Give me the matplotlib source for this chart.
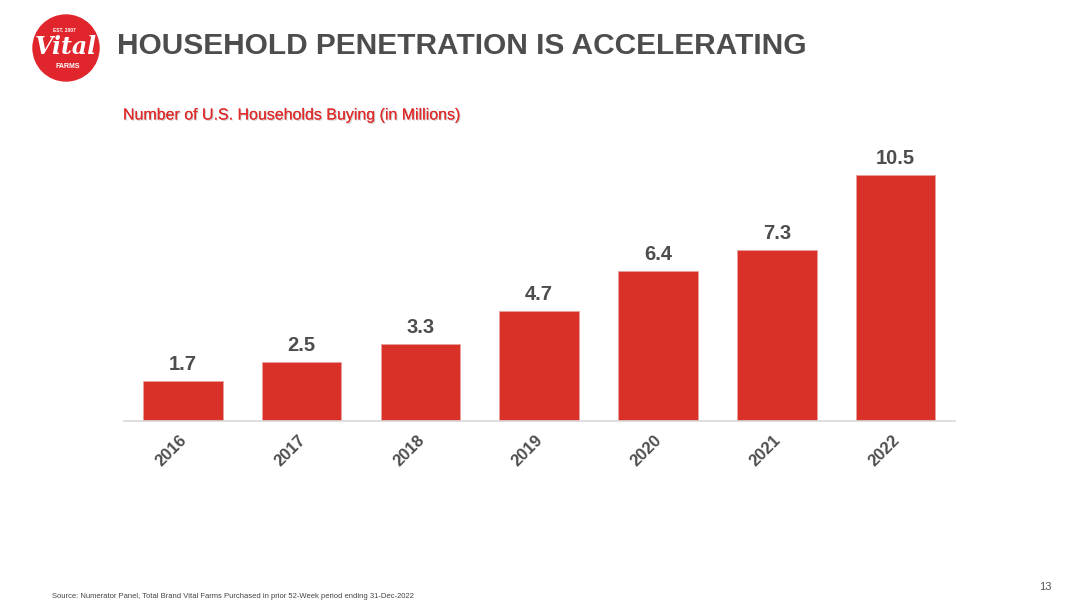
import matplotlib
matplotlib.use("Agg")
import matplotlib.pyplot as plt
from matplotlib.patches import Circle
import matplotlib.patheffects as pe
import matplotlib.transforms as mtrans

years = ["2016", "2017", "2018", "2019", "2020", "2021", "2022"]
households = [1.7, 2.5, 3.3, 4.7, 6.4, 7.3, 10.5]
value_labels = ["1.7", "2.5", "3.3", "4.7", "6.4", "7.3", "10.5"]

plt.rcParams["font.family"] = ["Liberation Sans", "DejaVu Sans"]

red = "#d93128"
grey = "#4d4d4d"

fig = plt.figure(figsize=(10.8, 6.12), dpi=100)

# chart area
ax = fig.add_axes([123.5 / 1080, 1 - 421 / 612, (955 - 123.5) / 1080, 281 / 612])
ax.bar(range(len(years)), households, width=0.67, color=red, edgecolor="#e8a09b", linewidth=0.6)
ax.set_xlim(-0.5, len(years) - 0.5)
ax.set_ylim(0, 12)
for i, v in enumerate(households):
    ax.text(i, v + 0.3, value_labels[i], ha="center", va="bottom",
            fontsize=14.5, fontweight="bold", color=grey)
ax.set_xticks(range(len(years)))
ax.set_xticklabels(years, rotation=45, ha="right", rotation_mode="anchor",
                   fontsize=12, fontweight="bold", color=grey)
ax.tick_params(axis="x", length=0, pad=8)
shift = mtrans.ScaledTranslation(-4 / 100, 0, fig.dpi_scale_trans)
for lbl in ax.get_xticklabels():
    lbl.set_transform(lbl.get_transform() + shift)
ax.set_yticks([])
for s in ["top", "right", "left"]:
    ax.spines[s].set_visible(False)
ax.spines["bottom"].set_color("#d9d9d9")
ax.spines["bottom"].set_linewidth(1.2)

# logo
lax = fig.add_axes([0, 0, 1, 1], facecolor="none")
lax.set_xlim(0, 1080)
lax.set_ylim(612, 0)
lax.axis("off")
lax.add_patch(Circle((66, 48), 33, color="#e0262c"))
lax.text(64, 31, "EST. 2007", ha="center", va="center", fontsize=3.5, color="white", fontweight="bold")
lax.text(66, 47, "Vital", ha="center", va="center", fontsize=17, color="white",
         fontstyle="italic", fontweight="bold", family="DejaVu Serif")
lax.text(68, 66, "FARMS", ha="center", va="center", fontsize=5, color="white", fontweight="bold")

fig.text(117 / 1080, 1 - 46 / 612, "HOUSEHOLD PENETRATION IS ACCELERATING",
         ha="left", va="center", fontsize=21.5, fontweight="bold", color=grey)
fig.text(123 / 1080, 1 - 115 / 612, "Number of U.S. Households Buying (in Millions)",
         ha="left", va="center", fontsize=11.5, color="#e02b2b",
         path_effects=[pe.withSimplePatchShadow(offset=(0.8, -0.8), shadow_rgbFace="#999999", alpha=0.5), pe.Normal()])
fig.text(52 / 1080, 1 - 597 / 612,
         "Source: Numerator Panel, Total Brand Vital Farms Purchased in prior 52-Week period ending 31-Dec-2022",
         ha="left", va="center", fontsize=5.5, color="#444444")
fig.text(1045 / 1080, 1 - 587 / 612, "13", ha="center", va="center", fontsize=8, color="#555555")

fig.savefig("out.png", dpi=100)
